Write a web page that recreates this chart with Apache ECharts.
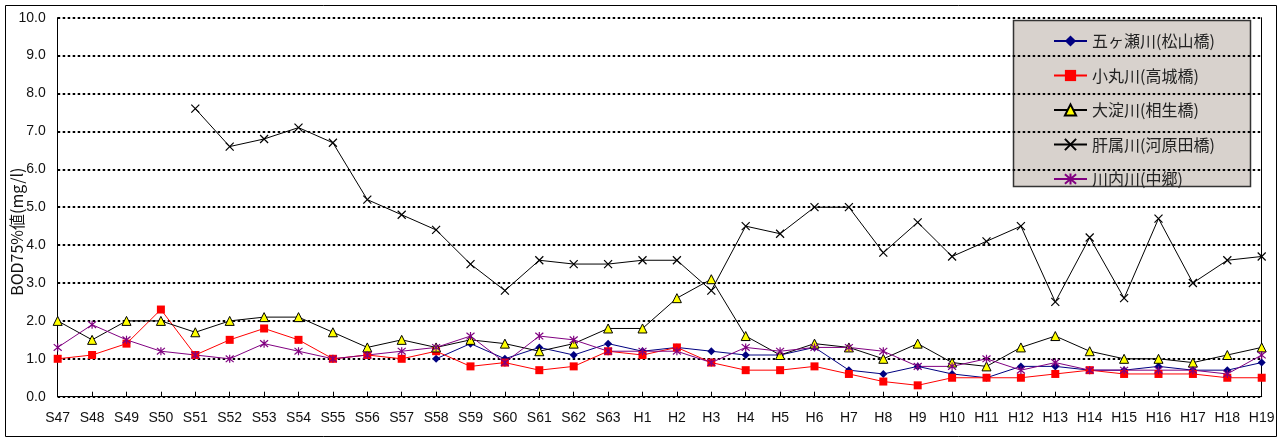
<!DOCTYPE html>
<html>
<head>
<meta charset="utf-8">
<script src="https://cdn.jsdelivr.net/npm/echarts@6/dist/echarts.min.js"></script>
<style>
html,body{margin:0;padding:0;background:#fff;}
#chart{width:1285px;height:439px;}
</style>
</head>
<body>
<div id="chart"></div>
<script>
const categories = ['S47','S48','S49','S50','S51','S52','S53','S54','S55','S56','S57','S58','S59','S60','S61','S62','S63',
  'H1','H2','H3','H4','H5','H6','H7','H8','H9','H10','H11','H12','H13','H14','H15','H16','H17','H18','H19'];
const seriesNames = ['五ヶ瀬川(松山橋)','小丸川(高城橋)','大淀川(相生橋)','肝属川(河原田橋)','川内川(中郷)'];
const gokase = [null,null,null,null,null,null,null,null,null,null,null,1.0,1.4,1.0,1.3,1.1,1.4,
  1.2,1.3,1.2,1.1,1.1,1.3,0.7,0.6,0.8,0.6,0.5,0.8,0.8,0.7,0.7,0.8,0.7,0.7,0.9];
const komaru = [1.0,1.1,1.4,2.3,1.1,1.5,1.8,1.5,1.0,1.1,1.0,1.2,0.8,0.9,0.7,0.8,1.2,
  1.1,1.3,0.9,0.7,0.7,0.8,0.6,0.4,0.3,0.5,0.5,0.5,0.6,0.7,0.6,0.6,0.6,0.5,0.5];
const oyodo = [2.0,1.5,2.0,2.0,1.7,2.0,2.1,2.1,1.7,1.3,1.5,1.3,1.5,1.4,1.2,1.4,1.8,
  1.8,2.6,3.1,1.6,1.1,1.4,1.3,1.0,1.4,0.9,0.8,1.3,1.6,1.2,1.0,1.0,0.9,1.1,1.3];
const kimotsuki = [null,null,null,null,7.6,6.6,6.8,7.1,6.7,5.2,4.8,4.4,3.5,2.8,3.6,3.5,3.5,
  3.6,3.6,2.8,4.5,4.3,5.0,5.0,3.8,4.6,3.7,4.1,4.5,2.5,4.2,2.6,4.7,3.0,3.6,3.7];
const sendai = [1.3,1.9,1.5,1.2,1.1,1.0,1.4,1.2,1.0,1.1,1.2,1.3,1.6,0.9,1.6,1.5,1.2,
  1.2,1.2,0.9,1.3,1.2,1.3,1.3,1.2,0.8,0.8,1.0,0.7,0.9,0.7,0.7,0.7,0.7,0.6,1.1];
const yTickLabels = ['0.0','1.0','2.0','3.0','4.0','5.0','6.0','7.0','8.0','9.0','10.0'];

const crossPath = 'path://M0,0L10,10M10,0L0,10';
const starPath = 'path://M0,0L10,10M10,0L0,10M5,-1L5,11';

const chart = echarts.init(document.getElementById('chart'), null, {renderer:'canvas'});
const fontLatin = 'Liberation Sans, Arial, sans-serif';
const fontCJK = '"Noto Sans CJK JP", "Liberation Sans", sans-serif';

function mk(name, data, lineColor, symbol, size, fill, border, bw){
  return {
    name, type:'line', data, symbol, symbolSize:size, showSymbol:true,
    connectNulls:false, animation:false,
    lineStyle:{color:lineColor, width:1},
    itemStyle:{color:fill, borderColor:border, borderWidth:bw},
    emphasis:{disabled:true}
  };
}

chart.setOption({
  animation:false,
  backgroundColor:'#ffffff',
  grid:{left:57.7, right:23.3, top:17.7, bottom:42.3, containLabel:false, outerBoundsMode:'none'},
  xAxis:{
    type:'category', data:categories, boundaryGap:false,
    axisLine:{lineStyle:{color:'#000', width:1}},
    axisTick:{show:true, inside:true, length:5, alignWithLabel:true, lineStyle:{color:'#000'}},
    axisLabel:{color:'#111', fontSize:14, fontFamily:fontLatin, margin:14, interval:0},
    splitLine:{show:false}
  },
  yAxis:[{
    type:'value', min:0, max:10, interval:1,
    name:'BOD75%値(mg/l)', nameLocation:'middle', nameGap:33, nameMoveOverlap:false,
    nameTextStyle:{color:'#111', fontSize:16, fontFamily:fontCJK, padding:[0,49,0,0]},
    axisLine:{show:true, lineStyle:{color:'#000', width:1}},
    axisTick:{show:false},
    axisLabel:{color:'#111', fontSize:14, fontFamily:fontLatin, margin:12,
      formatter:(v)=>yTickLabels[Math.round(v)]},
    splitLine:{show:true, lineStyle:{color:'#000', width:2, type:[2.5,2.5]}}
  },{
    type:'value', min:0, max:10, interval:1, position:'right',
    axisLine:{show:true, lineStyle:{color:'#000', width:1}},
    axisTick:{show:false}, axisLabel:{show:false}, splitLine:{show:false}
  }],
  legend:{
    orient:'vertical', left:1053, top:33, padding:0,
    itemWidth:33, itemHeight:14, itemGap:18.5,
    textStyle:{color:'#222', fontSize:16, fontFamily:fontCJK},
    data:seriesNames
  },
  graphic:[
    {type:'rect', z:-1, silent:true, shape:{x:5.5, y:5.5, width:1271, height:431},
      style:{fill:'none', stroke:'#000', lineWidth:1}},
    {type:'rect', z:0, silent:true, shape:{x:1013.5, y:20.5, width:237, height:166},
      style:{fill:'#D8D2CD', stroke:'#333', lineWidth:1.5}}
  ],
  series:[
    mk(seriesNames[0], gokase, '#000080', 'diamond', 8, '#000080', '#000080', 0),
    mk(seriesNames[1], komaru, '#FF0000', 'rect', 8, '#FF0000', '#FF0000', 0),
    mk(seriesNames[2], oyodo, '#000000', 'triangle', 9, '#FFFF00', '#000000', 1),
    mk(seriesNames[3], kimotsuki, '#000000', crossPath, 8, 'rgba(0,0,0,0)', '#000000', 1.2),
    mk(seriesNames[4], sendai, '#800080', starPath, 8, 'rgba(0,0,0,0)', '#800080', 1.2)
  ]
});
</script>
</body>
</html>
